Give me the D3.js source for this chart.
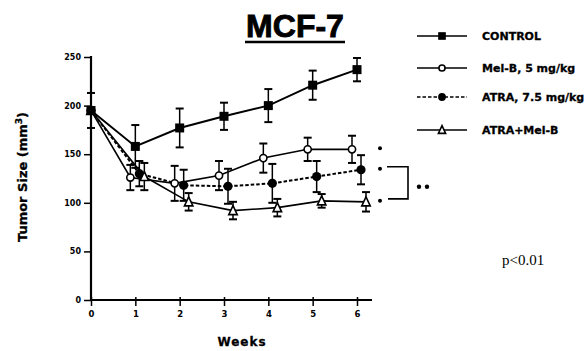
<!DOCTYPE html>
<html><head><meta charset="utf-8">
<script src="https://cdn.jsdelivr.net/npm/d3@7"></script>
<style>
html,body{margin:0;padding:0;background:#fff;}
svg{display:block;}
</style></head>
<body>
<svg id="chart" width="586" height="351"></svg>
<script>
// ---- data ----
const weeks = [0, 1, 2, 3, 4, 5, 6];
const seriesNames = ["CONTROL", "Mel-B, 5 mg/kg", "ATRA, 7.5 mg/kg", "ATRA+Mel-B"];
const controlVals = [195, 158, 177, 189, 200, 221, 237];
const controlErr  = [18, 22, 20, 14, 17, 15, 12];
const melbVals    = [195, 126, 120, 128, 146, 155, 155];
const melbErr     = [18, 13, 18, 15, 15, 12, 14];
const atraVals    = [195, 130, 118, 117, 120, 127, 134];
const atraErr     = [18, 13, 16, 18, 20, 16, 15];
const comboVals   = [195, 127, 101, 92, 95, 102, 101];
const comboErr    = [18, 14, 9, 9, 9, 7, 10];
const yTicks = [0, 50, 100, 150, 200, 250];
const xTicks = [0, 1, 2, 3, 4, 5, 6];
const titleText = "MCF-7";
const xTitle = "Weeks";
const pText = "p<0.01";

// ---- layout / styles ----
const svg = d3.select("#chart");
const x = d3.scaleLinear().domain([0, 6]).range([91, 357]);
const y = d3.scaleLinear().domain([0, 250]).range([300, 57]);
const boldFont = "DejaVu Sans, Liberation Sans, sans-serif";

const series = [
  {name: seriesNames[0], vals: controlVals, err: controlErr, off: 0,  marker: "square",   dash: null,  lw: 2.0},
  {name: seriesNames[1], vals: melbVals,    err: melbErr,    off: -5, marker: "ocircle",  dash: null,  lw: 1.6},
  {name: seriesNames[2], vals: atraVals,    err: atraErr,    off: 4,  marker: "fcircle",  dash: "3.5,2", lw: 2.0},
  {name: seriesNames[3], vals: comboVals,   err: comboErr,   off: 9,  marker: "triangle", dash: null,  lw: 1.6}
];

function px(s, i) { return x(weeks[i]) + (weeks[i] === 0 ? 0 : s.off); }

function drawMarker(g, type, cx, cy, sc) {
  sc = sc || 1;
  if (type === "square") {
    const h = 4.5 * sc;
    g.append("rect").attr("x", cx - h).attr("y", cy - h).attr("width", 2 * h).attr("height", 2 * h).attr("fill", "#000");
  } else if (type === "ocircle") {
    g.append("circle").attr("cx", cx).attr("cy", cy).attr("r", 3.6 * sc).attr("fill", "#fff").attr("stroke", "#000").attr("stroke-width", 1.6);
  } else if (type === "fcircle") {
    g.append("circle").attr("cx", cx).attr("cy", cy).attr("r", 4.6 * sc).attr("fill", "#000");
  } else if (type === "triangle") {
    const h = 8 * sc, w = 8.5 * sc;
    g.append("path").attr("d", `M${cx},${cy - h/2 - 1}L${cx + w/2},${cy + h/2}L${cx - w/2},${cy + h/2}Z`)
      .attr("fill", "#fff").attr("stroke", "#000").attr("stroke-width", 1.6);
  }
}

// ---- title ----
svg.append("text").attr("x", 295).attr("y", 37).attr("text-anchor", "middle")
  .attr("font-family", "Liberation Sans, Arial, sans-serif").attr("font-weight", "bold")
  .attr("font-size", 32).attr("stroke", "#000").attr("stroke-width", 0.9).text(titleText);
svg.append("line").attr("x1", 245).attr("x2", 345).attr("y1", 42).attr("y2", 42)
  .attr("stroke", "#000").attr("stroke-width", 2.5);

// ---- axes ----
const yAxis = d3.axisLeft(y).tickValues(yTicks).tickSize(7).tickPadding(3).tickFormat(d3.format("d"));
const gy = svg.append("g").attr("transform", "translate(91,0)").call(yAxis);
gy.select(".domain").remove();
gy.selectAll(".tick line").attr("stroke", "#000").attr("stroke-width", 1.5);
gy.selectAll(".tick text").attr("font-family", boldFont).attr("font-weight", "bold").attr("font-size", 8).attr("fill", "#000");
svg.append("line").attr("x1", 91).attr("x2", 91).attr("y1", y(250) - 1).attr("y2", y(0) + 1)
  .attr("stroke", "#000").attr("stroke-width", 2.2);

const xAxis = d3.axisBottom(x).tickValues(xTicks).tickSize(6).tickPadding(5).tickFormat(d3.format("d"));
const gx = svg.append("g").attr("transform", "translate(0,300)").call(xAxis);
gx.select(".domain").remove();
gx.selectAll(".tick line").attr("stroke", "#000").attr("stroke-width", 1.5).attr("y1", -3);
gx.selectAll(".tick text").attr("font-family", boldFont).attr("font-weight", "bold").attr("font-size", 8.5).attr("fill", "#000");
svg.append("line").attr("x1", 90).attr("x2", 372).attr("y1", 300).attr("y2", 300)
  .attr("stroke", "#000").attr("stroke-width", 2.2);

// axis titles
svg.append("text").attr("x", 242).attr("y", 346).attr("text-anchor", "middle")
  .attr("font-family", boldFont).attr("font-weight", "bold").attr("font-size", 12).attr("letter-spacing", 1)
  .attr("stroke", "#000").attr("stroke-width", 0.3)
  .text(xTitle);
const yt = svg.append("text").attr("transform", "translate(27,177) rotate(-90)").attr("text-anchor", "middle")
  .attr("font-family", boldFont).attr("font-weight", "bold").attr("font-size", 13)
  .attr("stroke", "#000").attr("stroke-width", 0.3);
yt.append("tspan").text("Tumor Size (mm");
yt.append("tspan").attr("font-size", 9).attr("dy", -5).text("3");
yt.append("tspan").attr("dy", 5).text(")");

// ---- lines ----
series.forEach(s => {
  const line = d3.line().x((d, i) => px(s, i)).y(d => y(d));
  svg.append("path").datum(s.vals).attr("d", line).attr("fill", "none")
    .attr("stroke", "#000").attr("stroke-width", s.lw)
    .attr("stroke-dasharray", s.dash);
});

// ---- error bars ----
series.forEach(s => {
  s.vals.forEach((v, i) => {
    if (weeks[i] === 0 && s.off !== 0) return;
    const cx = px(s, i);
    const top = y(v + s.err[i]), bot = y(v - s.err[i]);
    const g = svg.append("g").attr("stroke", "#000");
    g.append("line").attr("x1", cx).attr("x2", cx).attr("y1", top).attr("y2", bot).attr("stroke-width", 1.5);
    g.append("line").attr("x1", cx - 4).attr("x2", cx + 4).attr("y1", top).attr("y2", top).attr("stroke-width", 2);
    g.append("line").attr("x1", cx - 4).attr("x2", cx + 4).attr("y1", bot).attr("y2", bot).attr("stroke-width", 2);
  });
});

// ---- markers ----
[1, 2, 3, 0].forEach(k => {
  const s = series[k];
  const g = svg.append("g");
  s.vals.forEach((v, i) => drawMarker(g, s.marker, px(s, i), y(v)));
});

// ---- legend ----
const legY = [36, 68, 97, 130];
series.forEach((s, k) => {
  const g = svg.append("g");
  g.append("line").attr("x1", 417).attr("x2", 467).attr("y1", legY[k]).attr("y2", legY[k])
    .attr("stroke", "#000").attr("stroke-width", 1.3).attr("stroke-dasharray", s.dash);
  drawMarker(g, s.marker, 442, legY[k], 0.85);
  g.append("text").attr("x", 482).attr("y", legY[k] + 4).attr("font-family", boldFont)
    .attr("font-weight", "bold").attr("font-size", 11).attr("stroke", "#000").attr("stroke-width", 0.3).text(s.name);
});

// ---- significance annotation ----
const last = weeks.length - 1;
const sigX = 380;
[1, 2, 3].forEach(k => {
  svg.append("circle").attr("cx", sigX).attr("cy", y(series[k].vals[last]) - 1).attr("r", 2).attr("fill", "#000");
});
const bTop = y(atraVals[last]) - 3, bBot = y(comboVals[last]) - 3;
svg.append("path").attr("d", `M387,${bTop}H408V${bBot}H388`).attr("fill", "none")
  .attr("stroke", "#000").attr("stroke-width", 1.6);
const midY = (bTop + bBot) / 2 + 4;
[419, 427].forEach(cx => svg.append("circle").attr("cx", cx).attr("cy", midY).attr("r", 2.2).attr("fill", "#000"));

svg.append("text").attr("x", 502).attr("y", 265).attr("font-family", "Liberation Serif, Times New Roman, serif")
  .attr("font-size", 15).text(pText);
</script>
</body></html>
